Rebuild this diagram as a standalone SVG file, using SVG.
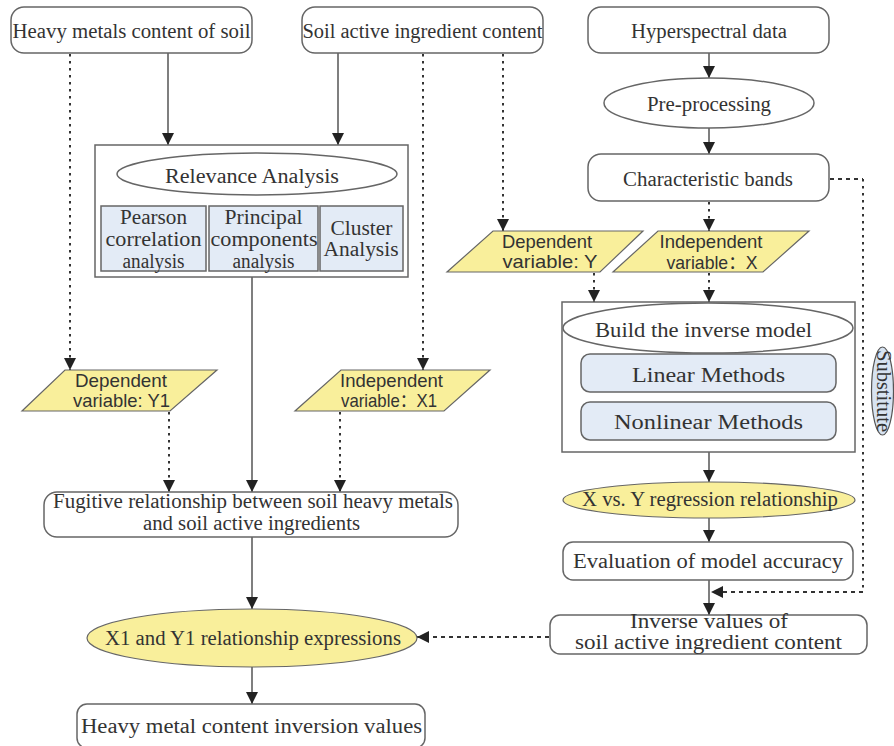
<svg xmlns="http://www.w3.org/2000/svg" width="894" height="746" viewBox="0 0 894 746">
<defs>
<marker id="ah" viewBox="0 0 12 12" refX="12" refY="6" markerWidth="12" markerHeight="12" markerUnits="userSpaceOnUse" orient="auto">
<path d="M0,0 L12,6 L0,12 Z" fill="#222"/>
</marker>
</defs>
<style>
.box{fill:#fff;stroke:#666;stroke-width:1.5}
.blue{fill:#e3ebf6;stroke:#666;stroke-width:1.5}
.yel{fill:#f9ef9b;stroke:#666;stroke-width:1.2}
.t{font-family:"Liberation Serif","Times New Roman",serif;font-size:20px;fill:#333;text-anchor:middle}
.s{font-family:"Liberation Sans",Arial,"Noto Sans CJK SC",sans-serif;font-size:18.5px;fill:#333;text-anchor:middle}
.ln{fill:none;stroke:#555;stroke-width:1.5}
.dot{fill:none;stroke:#333;stroke-width:2;stroke-dasharray:2.5 4.5}
.dash{fill:none;stroke:#333;stroke-width:2;stroke-dasharray:4 4}
</style>
<rect width="894" height="746" fill="#fff"/>

<g id="connectors">
<line class="ln" x1="168" y1="53" x2="168" y2="145" marker-end="url(#ah)"/>
<line class="ln" x1="338" y1="53" x2="338" y2="145" marker-end="url(#ah)"/>
<line class="dot" x1="70" y1="54" x2="70" y2="370" marker-end="url(#ah)"/>
<line class="dot" x1="423" y1="54" x2="423" y2="370" marker-end="url(#ah)"/>
<line class="dot" x1="503" y1="54" x2="503" y2="231" marker-end="url(#ah)"/>
<line class="ln" x1="709" y1="53" x2="709" y2="78" marker-end="url(#ah)"/>
<line class="ln" x1="709" y1="128" x2="709" y2="154" marker-end="url(#ah)"/>
<line class="dot" x1="709" y1="202" x2="709" y2="231" marker-end="url(#ah)"/>
<line class="dot" x1="594" y1="273" x2="594" y2="302" marker-end="url(#ah)"/>
<line class="dot" x1="709" y1="273" x2="709" y2="302" marker-end="url(#ah)"/>
<line class="ln" x1="709" y1="452" x2="709" y2="482" marker-end="url(#ah)"/>
<line class="ln" x1="709" y1="517" x2="709" y2="542" marker-end="url(#ah)"/>
<line class="ln" x1="709" y1="580" x2="709" y2="615" marker-end="url(#ah)"/>
<polyline class="dash" points="830,179 863,179"/>
<line class="dot" x1="863" y1="179" x2="863" y2="592"/>
<line class="dash" x1="863" y1="592" x2="711" y2="592" marker-end="url(#ah)"/>
<line class="dash" x1="549" y1="637" x2="417" y2="637" marker-end="url(#ah)"/>
<line class="ln" x1="252" y1="277" x2="252" y2="492" marker-end="url(#ah)"/>
<line class="dot" x1="169" y1="412" x2="169" y2="492" marker-end="url(#ah)"/>
<line class="dot" x1="340" y1="412" x2="340" y2="492" marker-end="url(#ah)"/>
<line class="ln" x1="252" y1="537" x2="252" y2="609" marker-end="url(#ah)"/>
<line class="ln" x1="252" y1="667" x2="252" y2="704" marker-end="url(#ah)"/>
</g>

<g id="heavy-metals">
<rect class="box" x="11" y="7" width="241" height="46" rx="13"/>
<text class="t" x="131.5" y="38" textLength="238" lengthAdjust="spacingAndGlyphs">Heavy metals content of soil</text>
</g>
<g id="soil-active">
<rect class="box" x="302" y="7" width="241" height="46" rx="13"/>
<text class="t" x="422.5" y="38" textLength="240" lengthAdjust="spacingAndGlyphs">Soil active ingredient content</text>
</g>
<g id="hyperspectral">
<rect class="box" x="588" y="7" width="241" height="46" rx="13"/>
<text class="t" x="709" y="38" textLength="156" lengthAdjust="spacingAndGlyphs">Hyperspectral data</text>
</g>
<g id="preprocessing">
<ellipse class="box" cx="709" cy="103" rx="105" ry="25"/>
<text class="t" x="709" y="111" textLength="124" lengthAdjust="spacingAndGlyphs">Pre-processing</text>
</g>
<g id="char-bands">
<rect class="box" x="588" y="154" width="241" height="47" rx="13"/>
<text class="t" x="708" y="186" textLength="170" lengthAdjust="spacingAndGlyphs">Characteristic bands</text>
</g>

<g id="relevance">
<rect class="box" x="95" y="145" width="313" height="132"/>
<ellipse class="box" cx="257" cy="174" rx="140" ry="21"/>
<text class="t" x="252" y="183" textLength="174" lengthAdjust="spacingAndGlyphs">Relevance Analysis</text>
</g>
<g id="pearson">
<rect class="blue" x="101" y="206" width="105" height="65"/>
<text class="t" x="153.5" y="224" textLength="67" lengthAdjust="spacingAndGlyphs">Pearson</text>
<text class="t" x="153.5" y="246" textLength="96" lengthAdjust="spacingAndGlyphs">correlation</text>
<text class="t" x="153.5" y="268" textLength="62" lengthAdjust="spacingAndGlyphs">analysis</text>
</g>
<g id="principal">
<rect class="blue" x="209" y="206" width="109" height="65"/>
<text class="t" x="263.5" y="224" textLength="78" lengthAdjust="spacingAndGlyphs">Principal</text>
<text class="t" x="264" y="246" textLength="107" lengthAdjust="spacingAndGlyphs">components</text>
<text class="t" x="263.5" y="268" textLength="62" lengthAdjust="spacingAndGlyphs">analysis</text>
</g>
<g id="cluster">
<rect class="blue" x="320" y="206" width="83" height="65"/>
<text class="t" x="361.5" y="235" textLength="62" lengthAdjust="spacingAndGlyphs">Cluster</text>
<text class="t" x="361" y="256" textLength="75" lengthAdjust="spacingAndGlyphs">Analysis</text>
</g>

<g id="dep-y">
<polygon class="yel" points="493,231 643,231 600,272 447,272"/>
<text class="s" x="547" y="248" textLength="90" lengthAdjust="spacingAndGlyphs">Dependent</text>
<text class="s" x="550" y="268" textLength="95" lengthAdjust="spacingAndGlyphs">variable: Y</text>
</g>
<g id="indep-x">
<polygon class="yel" points="658,231 809,231 763,272 613,272"/>
<text class="s" x="711" y="248" textLength="103" lengthAdjust="spacingAndGlyphs">Independent</text>
<text class="s" x="712" y="269" textLength="91" lengthAdjust="spacingAndGlyphs">variable：X</text>
</g>

<g id="inverse-model">
<rect class="box" x="562" y="302" width="293" height="150"/>
<ellipse class="box" cx="708" cy="328" rx="145" ry="25"/>
<text class="t" x="703.5" y="337" textLength="217" lengthAdjust="spacingAndGlyphs">Build the inverse model</text>
</g>
<g id="linear">
<rect class="blue" x="581" y="354" width="255" height="38" rx="9"/>
<text class="t" x="708.5" y="382" textLength="153" lengthAdjust="spacingAndGlyphs">Linear Methods</text>
</g>
<g id="nonlinear">
<rect class="blue" x="581" y="402" width="255" height="38" rx="9"/>
<text class="t" x="708.5" y="429" textLength="189" lengthAdjust="spacingAndGlyphs">Nonlinear Methods</text>
</g>
<g id="substitute">
<ellipse cx="882.5" cy="391" rx="11" ry="44" fill="#d7e3f1" stroke="#555" stroke-width="1.2"/>
<text class="t" x="0" y="0" font-size="18" textLength="82" lengthAdjust="spacingAndGlyphs" transform="translate(877,391) rotate(90)">Substitute</text>
</g>

<g id="xy-regression">
<ellipse class="yel" cx="709" cy="500" rx="146" ry="18"/>
<text class="t" x="710" y="506" textLength="256" lengthAdjust="spacingAndGlyphs">X vs. Y regression relationship</text>
</g>
<g id="evaluation">
<rect class="box" x="563" y="542" width="290" height="38" rx="10"/>
<text class="t" x="708" y="568" textLength="270" lengthAdjust="spacingAndGlyphs">Evaluation of model accuracy</text>
</g>
<g id="inverse-values">
<rect class="box" x="550" y="615" width="317" height="39" rx="10"/>
<text class="t" x="709" y="628" textLength="158" lengthAdjust="spacingAndGlyphs">Inverse values of</text>
<text class="t" x="708.5" y="649" textLength="267" lengthAdjust="spacingAndGlyphs">soil active ingredient content</text>
</g>

<g id="dep-y1">
<polygon class="yel" points="65,370 217,370 170,411 22,411"/>
<text class="s" x="121" y="387" textLength="92" lengthAdjust="spacingAndGlyphs">Dependent</text>
<text class="s" x="121.5" y="407" textLength="97" lengthAdjust="spacingAndGlyphs">variable: Y1</text>
</g>
<g id="indep-x1">
<polygon class="yel" points="341,370 490,370 444,411 295,411"/>
<text class="s" x="391.5" y="387" textLength="103" lengthAdjust="spacingAndGlyphs">Independent</text>
<text class="s" x="389" y="407" textLength="96" lengthAdjust="spacingAndGlyphs">variable：X1</text>
</g>

<g id="fugitive">
<rect class="box" x="44" y="492" width="414" height="45" rx="13"/>
<text class="t" x="253" y="508" textLength="400" lengthAdjust="spacingAndGlyphs">Fugitive relationship between soil heavy metals</text>
<text class="t" x="251.5" y="530" textLength="217" lengthAdjust="spacingAndGlyphs">and soil active ingredients</text>
</g>
<g id="x1y1">
<ellipse class="yel" cx="252" cy="638" rx="165" ry="29"/>
<text class="t" x="253" y="645" textLength="296" lengthAdjust="spacingAndGlyphs">X1 and Y1 relationship expressions</text>
</g>
<g id="inversion-values">
<rect class="box" x="77" y="704" width="348" height="44" rx="10"/>
<text class="t" x="251.5" y="733" textLength="341" lengthAdjust="spacingAndGlyphs">Heavy metal content inversion values</text>
</g>
</svg>
